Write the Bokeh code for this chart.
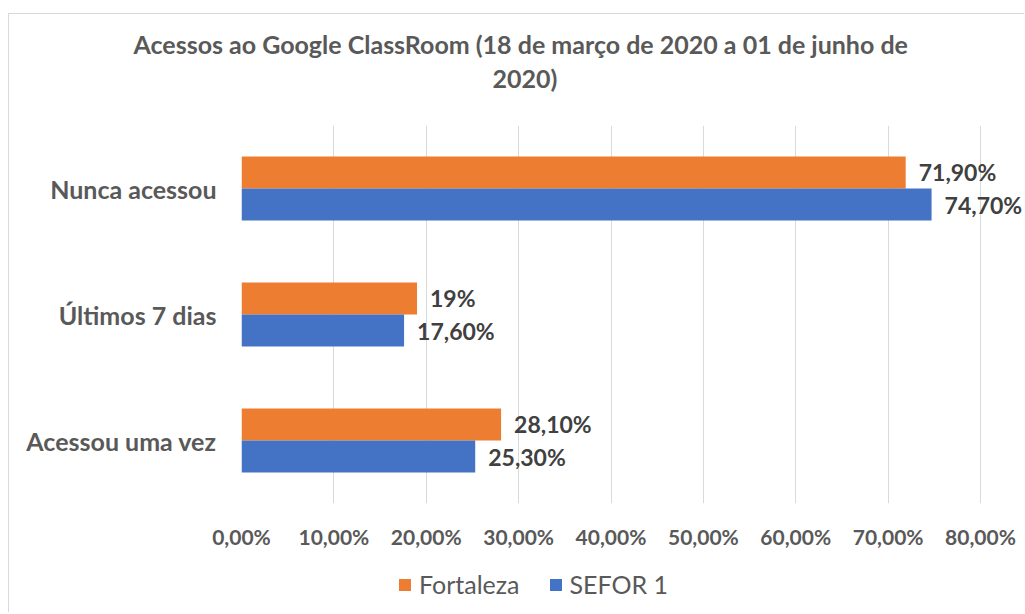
from bokeh.plotting import figure
from bokeh.layouts import column
from bokeh.models import (FactorRange, Range1d, FixedTicker, Legend, LegendItem,
                          Title, ColumnDataSource)
from bokeh.core.properties import value
from bokeh.transform import dodge
from bokeh.embed import file_html
from bokeh.resources import INLINE

categories = ["Acessou uma vez", "Últimos 7 dias", "Nunca acessou"]
fortaleza = [0.281, 0.19, 0.719]
sefor1 = [0.253, 0.176, 0.747]
fortaleza_labels = ["28,10%", "19%", "71,90%"]
sefor1_labels = ["25,30%", "17,60%", "74,70%"]
x_ticks = [0.0, 0.1, 0.2, 0.3, 0.4, 0.5, 0.6, 0.7, 0.8]
x_tick_labels = ["0,00%", "10,00%", "20,00%", "30,00%", "40,00%",
                 "50,00%", "60,00%", "70,00%", "80,00%"]
title_lines = ["Acessos ao Google ClassRoom (18 de março de 2020 a 01 de junho de", "2020)"]
series_names = ["Fortaleza", "SEFOR 1"]

FONT = "Lato"
GRAY = "#595959"
ORANGE = "#ED7D31"
BLUE = "#4472C4"
LINE = "#d9d9d9"

src = ColumnDataSource(dict(cat=categories, f=fortaleza, s=sefor1,
                            fl=fortaleza_labels, sl=sefor1_labels))

p = figure(width=1024, height=553, y_range=FactorRange(*categories, range_padding=0),
           x_range=Range1d(0, 0.8476), output_backend="svg", toolbar_location=None,
           min_border_left=241, min_border_right=0, min_border_top=125,
           min_border_bottom=50, title=None)
p.styles = {"background": f"linear-gradient({LINE},{LINE}) 8px 13px / 100% 1px no-repeat, "
                          f"linear-gradient({LINE},{LINE}) 8px 13px / 1px 100% no-repeat, white"}
p.outline_line_color = None
p.background_fill_color = None
p.border_fill_color = None

bh = 0.254
p.hbar(y=dodge("cat", bh / 2, range=p.y_range), right="f", left=0, height=bh,
       source=src, color=ORANGE, line_color=None)
p.hbar(y=dodge("cat", -bh / 2, range=p.y_range), right="s", left=0, height=bh,
       source=src, color=BLUE, line_color=None)

for col, lab, off in (("f", "fl", bh / 2), ("s", "sl", -bh / 2)):
    p.text(x=col, y=dodge("cat", off, range=p.y_range), text=lab, source=src,
           x_offset=13, text_baseline="middle", text_align="left",
           text_font=value(FONT), text_font_size="23px", text_font_style="bold",
           text_color="#404040")

# axes
p.xaxis.ticker = FixedTicker(ticks=x_ticks)
p.xaxis.major_label_overrides = {t: l for t, l in zip(x_ticks, x_tick_labels)}
p.xaxis.axis_line_color = None
p.xaxis.major_tick_line_color = None
p.xaxis.minor_tick_line_color = None
p.xaxis.major_tick_out = 0
p.xaxis.major_tick_in = 0
p.xaxis.major_label_text_font = FONT
p.xaxis.major_label_text_font_size = "21px"
p.xaxis.major_label_text_font_style = "bold"
p.xaxis.major_label_text_color = GRAY
p.xaxis.major_label_standoff = 20

p.yaxis.axis_line_color = None
p.yaxis.major_tick_line_color = None
p.yaxis.minor_tick_line_color = None
p.yaxis.major_tick_out = 0
p.yaxis.major_tick_in = 0
p.yaxis.major_label_text_font = FONT
p.yaxis.major_label_text_font_size = "25px"
p.yaxis.major_label_text_font_style = "bold"
p.yaxis.major_label_text_color = GRAY
p.yaxis.major_label_standoff = 25

p.xgrid.grid_line_color = LINE
p.xgrid.grid_line_width = 1
p.ygrid.grid_line_color = None

# title: spacer nearest the frame, then line 2, then line 1
p.add_layout(Title(text=" ", text_font_size="10px", standoff=18), "above")
p.add_layout(Title(text=title_lines[1], align="left", offset=251, vertical_align="middle",
                   text_font=FONT, text_font_size="25px", text_font_style="bold",
                   text_color=GRAY, standoff=2), "above")
p.add_layout(Title(text=title_lines[0], align="left", offset=-108, vertical_align="middle",
                   text_font=FONT, text_font_size="25px", text_font_style="bold",
                   text_color=GRAY, standoff=2), "above")

# legend strip below the chart (its frame is aligned with the chart's frame)
p2 = figure(width=1024, height=59, output_backend="svg", toolbar_location=None,
            x_range=Range1d(0, 1), y_range=Range1d(0, 1),
            x_axis_type=None, y_axis_type=None, min_border=0, title=None)
p2.styles = {"background": f"linear-gradient({LINE},{LINE}) 8px 0px / 1px 100% no-repeat, white"}
p2.outline_line_color = None
p2.background_fill_color = None
p2.border_fill_color = None
p2.grid.visible = False
# zero-size proxies carrying the series colours for the legend
lr_f = p2.hbar(y=-5, left="f", right="f", height=0, source=src, color=ORANGE, line_color=None)
lr_s = p2.hbar(y=-5, left="s", right="s", height=0, source=src, color=BLUE, line_color=None)

legend = Legend(items=[LegendItem(label=series_names[0], renderers=[lr_f]),
                       LegendItem(label=series_names[1], renderers=[lr_s])],
                orientation="horizontal", location=(156, 13),
                border_line_color=None, background_fill_alpha=0,
                label_text_font=FONT, label_text_font_size="25px",
                label_text_color=GRAY, glyph_width=15, glyph_height=15,
                padding=0, margin=0, spacing=28, label_standoff=7)
p2.add_layout(legend, "center")

open("out.html", "w").write(file_html(column(p, p2, spacing=0), INLINE))
